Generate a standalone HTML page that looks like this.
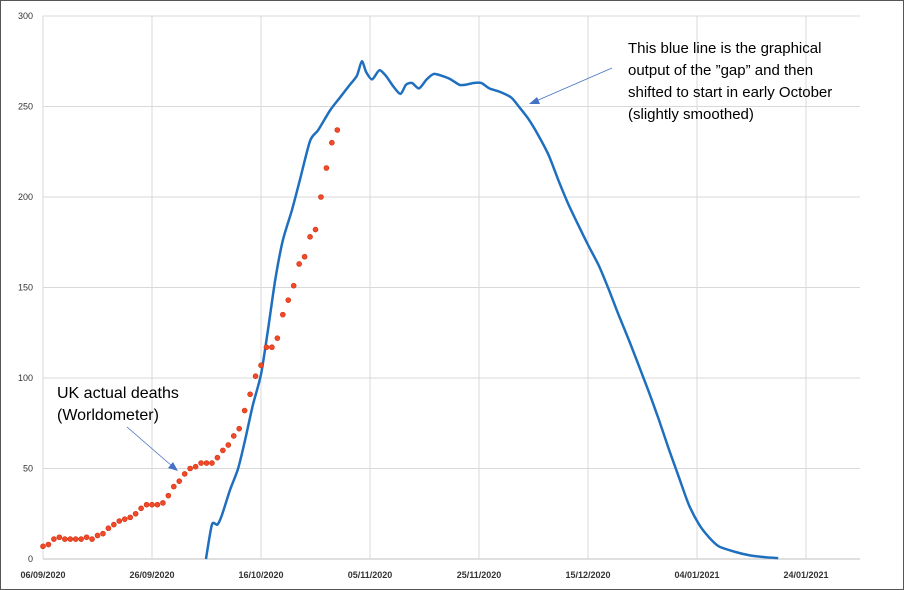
<!DOCTYPE html>
<html><head><meta charset="utf-8"><style>
body{margin:0;background:#fff;font-family:"Liberation Sans",sans-serif}
svg{display:block}
</style></head><body>
<svg width="904" height="590" id="c">
<rect x="0.5" y="0.5" width="903" height="589" fill="#fff" stroke="#555"/>
<g id="grid"></g><g id="axes"></g><g id="series"></g>
<g font-size="15" fill="#000">
<text x="628" y="53">This blue line is the graphical</text>
<text x="628" y="75">output of the ”gap” and then</text>
<text x="628" y="97">shifted to start in early October</text>
<text x="628" y="119">(slightly smoothed)</text>
</g>
<line x1="612" y1="68" x2="536" y2="101" stroke="#4472c4" stroke-width="0.8"/>
<polygon points="529,104 537,97 540,104" fill="#4472c4"/>
<g font-size="16" fill="#000">
<text x="57" y="398">UK actual deaths</text>
<text x="57" y="420">(Worldometer)</text>
</g>
<line x1="127" y1="427" x2="172" y2="466" stroke="#4472c4" stroke-width="0.8"/>
<polygon points="178,471 168,468 173,462" fill="#4472c4"/>
</svg>
<script>
const xTickLabels=["06/09/2020","26/09/2020","16/10/2020","05/11/2020","25/11/2020","15/12/2020","04/01/2021","24/01/2021"];
const yTicks=[0,50,100,150,200,250,300];
const deaths=[7,8,11,12,11,11,11,11,12,11,13,14,17,19,21,22,23,25,28,30,30,30,31,35,40,43,47,50,51,53,53,53,56,60,63,68,72,82,91,101,107,117,117,122,135,143,151,163,167,178,182,200,216,230,237];
const gapDays=[29.9,31,32,32.8,34.3,35.8,37.1,38.5,40,41.3,42.6,44,45.7,47.1,49,50.5,52.7,54.5,56.3,57.6,58.5,59.3,60.4,61.7,62.9,64.3,65.6,66.6,67.7,69,70.4,71.7,73.1,74.8,76.4,77.5,79,80.4,81.9,83.9,85.9,87.3,89.1,90.9,92.8,94.6,96.4,98.3,100.1,102,103.8,105.6,107.5,109.3,111.2,113,114.8,116.7,118.5,120.4,122.2,124,126.9,129.7,132.5,134.9];
const gapVals=[0,19,19,24,38,50,66,85,102,127,154,176,193,209,231,237,248,255,262,267,275,269,265,270,267,261,257,262,263,260,265,268,267,265,262,262,263,263,260,258,255,250,243,234,223,209,196,184,173,162,149,135,121,107,92,77,61,45,30,19,12,7,4,2,1,0.5];
const NS="http://www.w3.org/2000/svg";
const X0=43,PXD=5.45,Y0=559,PXV=543/300,XR=860;
const xs=d=>X0+d*PXD, ys=v=>Y0-v*PXV;
function mk(t,a,p){const e=document.createElementNS(NS,t);for(const k in a)e.setAttribute(k,a[k]);document.getElementById(p).appendChild(e);return e;}
yTicks.forEach(v=>{
 const l=mk('line',{x1:X0,x2:XR,y1:ys(v),y2:ys(v),stroke:v?'#d9d9d9':'#bfbfbf','stroke-width':1},'grid');
 
 
 const t=mk('text',{x:33,y:ys(v)+3,'text-anchor':'end','font-size':9,fill:'#333'},'axes');t.textContent=v;
 
 
});
xTickLabels.forEach((s,i)=>{
 const x=xs(i*20);
 const l=mk('line',{x1:x,x2:x,y1:ys(300),y2:Y0,stroke:'#d9d9d9','stroke-width':1},'grid');
 
 
 const t=mk('text',{x:x,y:578,'text-anchor':'middle','font-size':9,'font-weight':'bold',fill:'#333'},'axes');t.textContent=s;
 
 
});
const P=gapDays.map((d,i)=>[xs(d),ys(gapVals[i])]);
let dstr=`M${P[0][0]},${P[0][1]}`;
for(let i=0;i<P.length-1;i++){const p0=P[Math.max(0,i-1)],p1=P[i],p2=P[i+1],p3=P[Math.min(P.length-1,i+2)];
 dstr+=`C${p1[0]+(p2[0]-p0[0])/8},${p1[1]+(p2[1]-p0[1])/8} ${p2[0]-(p3[0]-p1[0])/8},${p2[1]-(p3[1]-p1[1])/8} ${p2[0]},${p2[1]}`;}
const line=mk('path',{d:dstr,fill:'none',stroke:'#1f6fbf','stroke-width':2.5,'stroke-linejoin':'round'},'series');


deaths.forEach((v,i)=>{
 const c=mk('circle',{cx:xs(i),cy:ys(v),r:2.5,fill:'#f04a2a',stroke:'#d03010','stroke-width':0.6},'series');
 
 
});
</script>
</body></html>
